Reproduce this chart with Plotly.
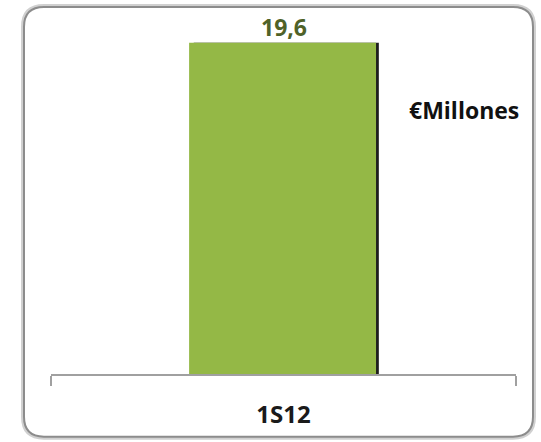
import plotly.graph_objects as go

categories = ["1S12"]
values = [19.6]
unit_label = "€Millones"

W, H = 541, 442
ml, mr, mt, mb = 51, 25, 20, 66
pw, ph = W - ml - mr, H - mt - mb

def px_x(x):
    return (x - ml) / pw

def px_y(y):
    return (H - mb - y) / ph

fig = go.Figure()
# shadow bar (dark right edge)
fig.add_trace(go.Bar(x=categories, y=values, width=0.398, offset=-0.193,
                     marker=dict(color="#1e1e1e", line=dict(width=0)),
                     hoverinfo="skip", showlegend=False))
fig.add_trace(go.Bar(x=categories, y=values, width=0.402, offset=-0.203,
                     marker=dict(color="#94b846", line=dict(width=0)),
                     showlegend=False))

for c, v in zip(categories, values):
    fig.add_annotation(x=c, y=v, xref="x", yref="y", text=f"{v:.1f}".replace(".", ","),
                       showarrow=False, yanchor="bottom", xanchor="center", yshift=-2,
                       font=dict(family="Open Sans", size=23, color="#4f6228", weight="bold"))

# rounded frame
x0, x1 = px_x(24), px_x(533)
y0, y1 = px_y(439), px_y(7)
rx, ry = 20 / pw, 20 / ph
path = (f"M {x0+rx},{y1} L {x1-rx},{y1} Q {x1},{y1} {x1},{y1-ry} "
        f"L {x1},{y0+ry} Q {x1},{y0} {x1-rx},{y0} L {x0+rx},{y0} "
        f"Q {x0},{y0} {x0},{y0+ry} L {x0},{y1-ry} Q {x0},{y1} {x0+rx},{y1} Z")
fig.add_shape(type="path", xref="paper", yref="paper", path=path,
              line=dict(color="#d0d0d0", width=6), layer="below")
fig.add_shape(type="path", xref="paper", yref="paper", path=path,
              line=dict(color="#8c8c8c", width=2), fillcolor="white", layer="below")

fig.add_annotation(text=unit_label, xref="paper", yref="paper",
                   x=px_x(464), y=px_y(111), xanchor="center", yanchor="middle",
                   showarrow=False,
                   font=dict(family="Open Sans", size=23, color="#111111", weight="bold"))

fig.update_layout(
    width=W, height=H, margin=dict(l=ml, r=mr, t=mt, b=mb),
    paper_bgcolor="white", plot_bgcolor="rgba(0,0,0,0)",
    barmode="overlay",
    xaxis=dict(type="category", range=[-0.5, 0.5], showline=True, linecolor="#a0a0a0",
               linewidth=1.5, ticks="outside", tickson="boundaries", ticklen=10,
               tickcolor="#a0a0a0", tickwidth=1.5, ticklabelstandoff=18,
               tickfont=dict(family="Open Sans", size=24, color="#1a1a1a", weight="bold"),
               showgrid=False, zeroline=False),
    yaxis=dict(range=[0, 20.95], visible=False, showgrid=False, zeroline=False),
)

fig.write_html("out.html")
